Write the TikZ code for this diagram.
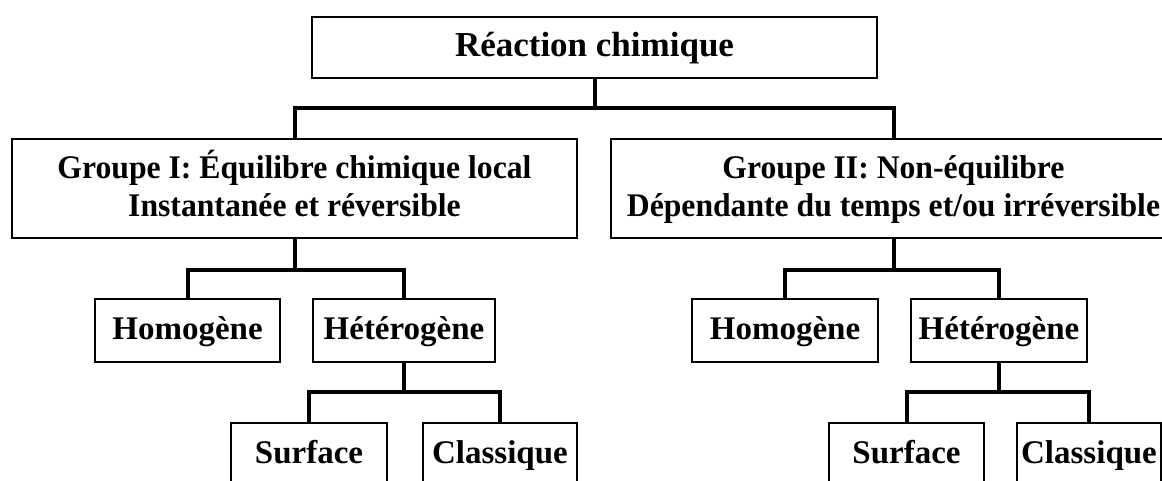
\documentclass[tikz,border=0pt]{standalone}
\usepackage{fontspec}
\setmainfont{Liberation Serif}
\newfontfamily\narrowserif[FakeStretch=0.96]{Liberation Serif}
\begin{document}
\begin{tikzpicture}[x=1pt,y=-1pt,
  box/.style={draw, line width=2.4pt, inner sep=0pt,
    font=\fontsize{33}{38}\selectfont\bfseries,
    text height=22pt, text depth=5pt},
  wide/.style={box, align=center, text height=60pt, text depth=5pt,
    font=\narrowserif\fontsize{33}{38}\selectfont\bfseries,
    minimum width=565pt, minimum height=99pt},
  small/.style={box, minimum height=63pt},
  link/.style={line width=4pt}]
\useasboundingbox (0,0) rectangle (1162,480);
\begin{scope}
\clip (0,0) rectangle (1162,480);
% boxes
\node[box, minimum width=565pt, minimum height=61pt,
  font=\fontsize{35}{40}\selectfont\bfseries, text height=23pt] (top) at (594.5,47.5) {Réaction chimique};
\node[wide] (g1) at (294.5,188.5) {Groupe I: Équilibre chimique local\\Instantanée et réversible};
\node[wide] (g2) at (893.5,188.5) {Groupe II: Non-équilibre\\Dépendante du temps et/ou irréversible};
\node[small, minimum width=185pt] (homL) at (187.5,330.5) {Homogène};
\node[small, minimum width=182pt] (hetL) at (404,330.5) {Hétérogène};
\node[small, minimum width=156pt] (surfL) at (309,454.5) {Surface};
\node[small, minimum width=154pt] (clasL) at (500,454.5) {Classique};
\node[small, minimum width=186pt] (homR) at (785,330.5) {Homogène};
\node[small, minimum width=176pt] (hetR) at (999,330.5) {Hétérogène};
\node[small, minimum width=155pt] (surfR) at (906.5,454.5) {Surface};
\node[small, minimum width=144pt] (clasR) at (1089,454.5) {Classique};
% junction points of the tree
\coordinate (j0) at (594.5,108);
\coordinate (j1) at (294.5,270);
\coordinate (j2) at (404,392);
\coordinate (j3) at (893.5,270);
\coordinate (j4) at (999,392);
% connectors
\draw[link] (top.south) -- (j0);
\draw[link] (g1.north) |- (j0) -| (g2.north);
\draw[link] (g1.south) -- (j1);
\draw[link] (homL.north) |- (j1) -| (hetL.north);
\draw[link] (hetL.south) -- (j2);
\draw[link] (surfL.north) |- (j2) -| (clasL.north);
\draw[link] (g2.south) -- (j3);
\draw[link] (homR.north) |- (j3) -| (hetR.north);
\draw[link] (hetR.south) -- (j4);
\draw[link] (surfR.north) |- (j4) -| (clasR.north);
\end{scope}
\end{tikzpicture}
\end{document}
